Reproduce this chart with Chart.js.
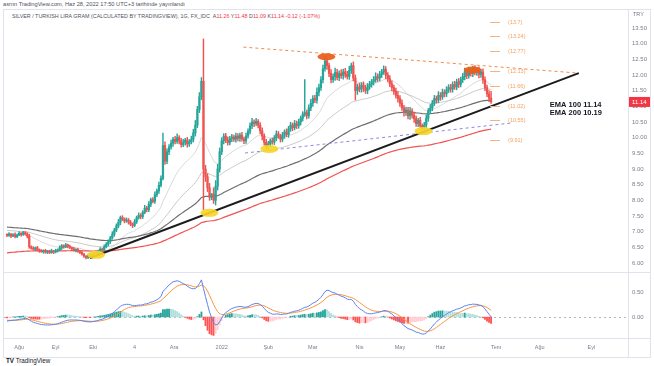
<!DOCTYPE html>
<html>
<head>
<meta charset="utf-8">
<script src="https://cdn.jsdelivr.net/npm/chart.js@4.4.1/dist/chart.umd.min.js"></script>
<style>
  body { margin: 0; background: #fff; width: 654px; height: 366px; overflow: hidden; position: relative;
         font-family: "Liberation Sans", Arial, sans-serif; }
  .t { position: absolute; white-space: nowrap; transform-origin: 0 0; font-size: 10px; line-height: 10px; color: #50535e; }
  .red { color: #f23645; }
  #box { position: absolute; left: 3px; top: 9px; width: 646px; height: 347px; border: 1px solid #e0e3eb; }
  .sep { position: absolute; background: #e0e3eb; }
  canvas { position: absolute; }
</style>
</head>
<body>
<div id="box"></div>
<div class="sep" style="left:628px;top:10px;width:1px;height:347px"></div>
<div class="sep" style="left:4px;top:272px;width:646px;height:1px"></div>
<div class="sep" style="left:4px;top:338px;width:646px;height:1px"></div>

<div class="t" id="pub">asrnn TradingView.com, Haz 28, 2022 17:50 UTC+3 tarihinde yayınlandı</div>
<div class="t" id="legend">SILVER / TURKISH LIRA GRAM (CALCULATED BY TRADINGVIEW), 1G, FX_IDC &nbsp;A<span class="red">11.26</span> Y<span class="red">11.48</span> D<span class="red">11.09</span> K<span class="red">11.14</span> <span class="red">-0.12 (-1.07%)</span></div>
<div class="t" id="logo" style="color:#131722"><b>TV</b> TradingView</div>

<canvas id="mainChart" width="646" height="262" style="left:4px;top:10px"></canvas>
<canvas id="macdChart" width="646" height="84" style="left:4px;top:273px"></canvas>

<script>
// ===== DATA (daily closes, silver gram / TRY, Aug 2021 - 28 Jun 2022) =====
const closes = [
  6.88, 6.92, 6.86, 6.90, 6.84, 6.89, 6.95, 6.91, 6.97, 6.93, 6.86,
  6.52, 6.47, 6.44, 6.49, 6.42, 6.38, 6.36, 6.40, 6.34, 6.37,
  6.33, 6.38, 6.35, 6.39, 6.42, 6.48, 6.55, 6.51, 6.58, 6.53,
  6.49, 6.45, 6.40, 6.43, 6.37, 6.34, 6.28, 6.22, 6.18, 6.24,
  6.20, 6.27, 6.33, 6.30, 6.38, 6.44, 6.41, 6.52, 6.60, 6.68,
  6.80, 6.92, 7.05, 7.18, 7.30, 7.45, 7.40, 7.34, 7.37, 7.30,
  7.24, 7.20, 7.32, 7.45, 7.52, 7.48, 7.62, 7.75, 7.70, 7.88,
  8.02, 7.97, 8.18, 8.30, 8.48, 8.70, 9.75, 9.25, 9.55, 9.70,
  9.82, 9.95, 9.88, 10.00, 9.90, 9.78, 9.85, 9.92, 9.80, 9.87,
  9.95, 10.15, 10.40, 10.90, 11.30, 11.80, 9.00, 8.75, 8.40, 8.10,
  8.20, 8.00, 8.45, 9.00, 9.55, 9.90, 10.05, 9.92, 9.85, 9.97,
  10.02, 9.95, 10.05, 9.98, 10.08, 9.96, 9.90, 10.05, 10.20, 10.38,
  10.50, 10.45, 10.52, 10.40, 10.22, 10.05, 9.85, 9.72, 9.80, 9.90,
  9.86, 10.00, 10.12, 10.05, 9.95, 10.08, 10.18, 10.10, 10.28, 10.40,
  10.32, 10.45, 10.38, 10.50, 10.62, 10.75, 10.80, 10.70, 10.95, 11.10,
  11.25, 11.20, 11.45, 11.60, 11.85, 12.20, 12.45, 12.30, 12.05, 11.85,
  11.95, 12.08, 11.92, 12.05, 11.98, 12.10, 12.02, 11.95, 12.15, 12.30,
  11.90, 11.50, 11.62, 11.55, 11.68, 11.58, 11.50, 11.62, 11.70, 11.78,
  11.85, 11.95, 11.90, 12.02, 12.10, 12.18, 12.00, 11.88, 11.72, 11.60,
  11.48, 11.35, 11.25, 11.10, 10.95, 10.80, 10.88, 10.70, 10.85, 10.72,
  10.60, 10.45, 10.55, 10.38, 10.30, 10.40, 10.62, 10.85, 10.95, 11.10,
  11.25, 11.20, 11.35, 11.30, 11.45, 11.40, 11.52, 11.60, 11.55, 11.70,
  11.62, 11.78, 11.70, 11.85, 11.95, 12.10, 11.98, 12.15, 12.05, 12.20,
  12.08, 12.15, 12.02, 12.10, 11.85, 11.60, 11.40, 11.26, 11.14
];
const firstOpen = 6.90;

// upper / lower wick length of each candle, in kuruş (hundredths)
const wickUp = [
  3, 5, 2, 4, 6, 3, 5, 2, 4, 3,   4, 6, 3, 5, 2, 4, 3, 5, 2, 4,
  3, 4, 6, 2, 5, 3, 7, 4, 3, 5,   2, 4, 3, 5, 3, 4, 2, 5, 3, 2,
  3, 5, 4, 2, 6, 3, 5, 4, 6, 5,   6, 5, 8, 6, 7, 9, 5, 6, 4, 7,
  5, 6, 4, 7, 5, 8, 6, 5, 9, 6,   8, 5, 7, 9, 6, 10, 8, 40, 12, 9,
  8, 10, 6, 9, 12, 7, 8, 10, 6, 9,   7, 10, 12, 15, 10, 14, 12, 135, 12, 10,
  14, 2, 20, 18, 15, 12, 10, 8, 9, 11,   7, 9, 6, 10, 8, 7, 9, 6, 10, 8,
  9, 12, 7, 10, 6, 8, 9, 7, 10, 8,   6, 9, 7, 10, 8, 6, 9, 7, 10, 8,
  9, 7, 10, 8, 9, 7, 8, 105, 8, 10,   12, 9, 10, 14, 11, 10, 12, 15, 10, 8,
  12, 9, 14, 10, 8, 12, 9, 11, 10, 13,   8, 12, 10, 9, 12, 8, 10, 9, 11, 10,
  8, 10, 12, 9, 10, 8, 11, 9, 8, 10,   9, 8, 10, 12, 9, 11, 8, 10, 9, 12,
  8, 10, 9, 7, 10, 6, 9, 10, 8, 11,   9, 10, 8, 12, 9, 10, 8, 11, 9, 10,
  8, 10, 9, 11, 8, 10, 12, 9, 10, 8,   8, 10, 9, 11, 8, 10, 9, 8, 10, 22
];
const wickDn = [
  4, 3, 5, 2, 4, 3, 2, 5, 3, 4,   6, 5, 3, 4, 5, 3, 4, 2, 5, 3,
  4, 3, 2, 5, 3, 4, 3, 5, 4, 2,   5, 3, 4, 2, 5, 3, 4, 3, 4, 5,
  4, 3, 5, 4, 3, 5, 3, 4, 3, 4,   5, 6, 4, 7, 5, 6, 8, 5, 6, 4,
  6, 5, 7, 4, 6, 5, 7, 6, 5, 7,   6, 8, 5, 7, 6, 8, 5, 5, 10, 8,
  9, 7, 10, 8, 6, 10, 8, 7, 9, 10,   8, 7, 9, 10, 8, 10, 9, 130, 15, 12,
  10, 8, 10, 15, 12, 10, 9, 10, 8, 9,   8, 10, 7, 9, 8, 10, 7, 9, 8, 7,
  8, 9, 10, 7, 9, 10, 12, 9, 10, 8,   9, 7, 8, 10, 7, 9, 8, 10, 7, 9,
  8, 10, 7, 9, 8, 10, 9, 7, 10, 8,   9, 10, 8, 10, 12, 9, 10, 8, 12, 10,
  10, 9, 12, 8, 10, 9, 11, 10, 8, 9,   10, 9, 30, 12, 9, 10, 11, 9, 10, 8,
  9, 10, 8, 11, 9, 10, 8, 12, 10, 9,   11, 10, 9, 12, 10, 8, 11, 9, 10, 12,
  10, 11, 9, 10, 8, 10, 8, 9, 10, 8,   9, 8, 10, 9, 11, 8, 10, 9, 8, 10,
  10, 8, 9, 10, 8, 9, 11, 10, 8, 9,   10, 8, 9, 11, 10, 12, 10, 9, 11, 5
];

// moving averages: periods and their values at the left edge of the chart
const emaPeriods = [20, 50, 100, 200];
const emaStart   = [6.95, 7.05, 7.15, 6.32];
// MACD(12,26,9): fast ema, slow ema, signal at the left edge
const macdStart  = [6.88, 6.97, -0.06];

// drawings (bar index, price)
const supportLine = [[41, 6.16], [282.3, 12.06]];
const resistLine  = [[116.7, 12.89], [282.3, 12.06]];
const channelLine = [[117.5, 9.51], [249.4, 10.47]];
const fibLevels = [13.7, 13.24, 12.77, 12.13, 11.66, 11.02, 10.55, 9.91];
const fibLabels = ['(13.7)', '(13.24)', '(12.77)', '(12.13)', '(11.66)', '(11.02)', '(10.55)', '(9.91)'];
const fibAt = 238.5;
const yellowSpots = [[44, 6.26], [99.9, 7.6], [129.5, 9.64], [205.6, 10.21]];
const orangeSpots = [[157.7, 12.58], [229.9, 12.16]];
const emaNotes = ['EMA 100 11.14', 'EMA 200 10.19'];
const emaNoteAt = [[268, 11.04], [268, 10.78]];
const lastPrice = 11.14;

// time axis
const monthTicks  = [6, 24, 42.5, 63, 82.5, 106, 129, 151, 174, 194, 214, 241.5, 263, 288.5];
const monthLabels = ['Ağu', 'Eyl', 'Eki', '4', 'Ara', '2022', 'Şub', 'Mar', 'Nis', 'May', 'Haz', 'Tem', 'Ağu', 'Eyl'];

// ===== DERIVED SERIES =====
const opens = closes.map((c, i) => i === 0 ? firstOpen : closes[i - 1]);
const highs = closes.map((c, i) => Math.max(c, opens[i]) + wickUp[i] / 100);
const lows  = closes.map((c, i) => Math.min(c, opens[i]) - wickDn[i] / 100);
const UP = '#26a69a', DN = '#ef5350';
const candleCol = closes.map((c, i) => c >= opens[i] ? UP : DN);

function ema(src, period, start) {
  const k = 2 / (period + 1);
  let e = start;
  return src.map(v => (e = e + k * (v - e)));
}
const emas = emaPeriods.map((p, j) => ema(closes, p, emaStart[j]));

const fast = ema(closes, 12, macdStart[0]);
const slow = ema(closes, 26, macdStart[1]);
const macd = fast.map((f, i) => f - slow[i]);
const signal = ema(macd, 9, macdStart[2]);
const hist = macd.map((m, i) => m - signal[i]);
const histCol = hist.map((h, i) => {
  const prev = i ? hist[i - 1] : h;
  if (h >= 0) return h >= prev ? '#26a69a' : '#b2dfdb';
  return h > prev ? '#ffcdd2' : '#ff5252';
});

// ===== CHARTS =====
Chart.defaults.font.family = '"Liberation Sans", Arial, sans-serif';
Chart.defaults.animation = false;

const X_MIN = -1.48, X_MAX = 306.6;
const fitRight = w => s => { s.width = w; s.paddingTop = 0; s.paddingBottom = 0; };
const pts = arr => arr.map(p => ({ x: p[0], y: p[1] }));
const series = arr => arr.map((v, i) => ({ x: i, y: v }));

const mainMarks = {
  id: 'mainMarks',
  afterDatasetsDraw(chart) {
    const { ctx, chartArea, scales: { x, y } } = chart;
    ctx.save();
    // highlight ellipses
    const blob = (spots, col, rx, ry) => spots.forEach(s => {
      ctx.beginPath();
      ctx.ellipse(x.getPixelForValue(s[0]), y.getPixelForValue(s[1]), rx, ry, 0, 0, Math.PI * 2);
      ctx.fillStyle = col; ctx.fill();
    });
    blob(yellowSpots, 'rgba(248,214,40,0.92)', 9, 4);
    blob(orangeSpots, 'rgba(233,96,30,0.95)', 9, 3.5);
    // level marks
    ctx.font = '5.5px "Liberation Sans", Arial';
    ctx.textBaseline = 'middle';
    ctx.textAlign = 'left';
    const fx = x.getPixelForValue(fibAt);
    fibLevels.forEach((v, i) => {
      const py = Math.round(y.getPixelForValue(v)) + 0.5;
      ctx.strokeStyle = '#f6b27a'; ctx.lineWidth = 1;
      ctx.beginPath(); ctx.moveTo(fx, py); ctx.lineTo(fx + 10, py); ctx.stroke();
      ctx.fillStyle = '#f5a25d';
      ctx.fillText(fibLabels[i], fx + 18, py);
    });
    // EMA notes
    ctx.font = 'bold 7.5px "Liberation Sans", Arial';
    ctx.fillStyle = '#131722';
    emaNotes.forEach((t, i) => ctx.fillText(t, x.getPixelForValue(emaNoteAt[i][0]), y.getPixelForValue(emaNoteAt[i][1])));
    // last price tag
    const ty = y.getPixelForValue(lastPrice);
    ctx.fillStyle = '#f23645';
    ctx.fillRect(chartArea.right + 1, ty - 5, chart.width - chartArea.right - 1, 10);
    ctx.fillStyle = '#fff';
    ctx.font = '6px "Liberation Sans", Arial';
    ctx.fillText(lastPrice.toFixed(2), chartArea.right + 4, ty + 0.5);
    // currency
    ctx.fillStyle = '#787b86';
    ctx.font = '5.5px "Liberation Sans", Arial';
    ctx.fillText('TRY', chartArea.right + 5, chartArea.top + 4);
    ctx.restore();
  }
};

const lineDs = (data, color, width, dash) => ({
  type: 'line', data, borderColor: color, borderWidth: width, borderDash: dash || [],
  pointRadius: 0, tension: 0, fill: false
});

new Chart(document.getElementById('mainChart'), {
  type: 'bar',
  data: {
    datasets: [
      lineDs(pts(supportLine), '#1c1c1c', 2),
      lineDs(pts(resistLine), '#f08a4b', 1, [3, 3]),
      lineDs(pts(channelLine), '#8b8be0', 1, [3, 3]),
      {
        type: 'bar', grouped: false, barThickness: 1.6, minBarLength: 1,
        data: closes.map((c, i) => ({ x: i, y: [opens[i], c] })),
        backgroundColor: candleCol
      },
      {
        type: 'bar', grouped: false, barThickness: 0.8,
        data: closes.map((c, i) => ({ x: i, y: [lows[i], highs[i]] })),
        backgroundColor: candleCol
      },
      lineDs(series(emas[3]), '#f05350', 1.2),
      lineDs(series(emas[2]), '#6e6e6e', 1.2),
      lineDs(series(emas[1]), '#c9c9c9', 1),
      lineDs(series(emas[0]), '#d9d9d9', 1)
    ]
  },
  options: {
    responsive: false,
    events: [],
    layout: { padding: 0 },
    plugins: { legend: { display: false }, tooltip: { enabled: false } },
    scales: {
      x: { type: 'linear', min: X_MIN, max: X_MAX, offset: false, display: false },
      y: {
        position: 'right', min: 5.7128, max: 14.0745,
        afterFit: fitRight(22),
        grid: { display: false, drawTicks: false }, border: { display: false },
        ticks: {
          stepSize: 0.5, includeBounds: false, autoSkip: false, padding: 4, crossAlign: 'near',
          color: '#7c7f88', font: { size: 6 },
          callback: v => v >= 14 ? '' : v.toFixed(2)
        }
      }
    }
  },
  plugins: [mainMarks]
});

const macdMarks = {
  id: 'macdMarks',
  beforeDatasetsDraw(chart) {
    const { ctx, chartArea, scales: { y } } = chart;
    const zy = Math.round(y.getPixelForValue(0)) + 0.5;
    ctx.save();
    ctx.strokeStyle = '#b2b5be'; ctx.lineWidth = 1; ctx.setLineDash([2, 3]);
    ctx.beginPath(); ctx.moveTo(chartArea.left, zy); ctx.lineTo(chartArea.right, zy); ctx.stroke();
    ctx.restore();
  }
};

new Chart(document.getElementById('macdChart'), {
  type: 'bar',
  data: {
    datasets: [
      lineDs(series(macd), '#5b83f0', 1),
      lineDs(series(signal), '#f7953f', 1),
      {
        type: 'bar', grouped: false, barThickness: 1.2,
        data: hist.map((h, i) => ({ x: i, y: h })),
        backgroundColor: histCol
      }
    ]
  },
  options: {
    responsive: false,
    events: [],
    layout: { padding: 0 },
    plugins: { legend: { display: false }, tooltip: { enabled: false } },
    scales: {
      x: {
        type: 'linear', min: X_MIN, max: X_MAX, offset: false,
        grid: { display: false, drawTicks: false }, border: { display: false },
        afterBuildTicks: s => { s.ticks = monthTicks.map(v => ({ value: v })); },
        afterFit: s => { s.height = 19; s.paddingLeft = 0; s.paddingRight = 0; },
        ticks: {
          autoSkip: false, maxRotation: 0, padding: 6, color: '#7c7f88', font: { size: 5.5 },
          callback: (v, i) => monthLabels[i]
        }
      },
      y: {
        position: 'right', min: -0.42, max: 0.88,
        afterFit: fitRight(22),
        grid: { display: false, drawTicks: false }, border: { display: false },
        ticks: {
          stepSize: 0.5, includeBounds: false, autoSkip: false, padding: 4, crossAlign: 'near',
          color: '#7c7f88', font: { size: 6 },
          callback: v => v.toFixed(2)
        }
      }
    }
  },
  plugins: [macdMarks]
});

// ===== HEADER TEXT: scale tiny labels to their widths =====
function place(id, left, cy, width) {
  const el = document.getElementById(id);
  const s = width / el.offsetWidth;
  el.style.left = left + 'px';
  el.style.top = (cy - el.offsetHeight * s / 2) + 'px';
  el.style.transform = 'scale(' + s + ')';
}
place('pub', 3, 4, 182);
place('legend', 12, 17, 308);
place('logo', 6, 361, 44);
</script>
</body>
</html>
